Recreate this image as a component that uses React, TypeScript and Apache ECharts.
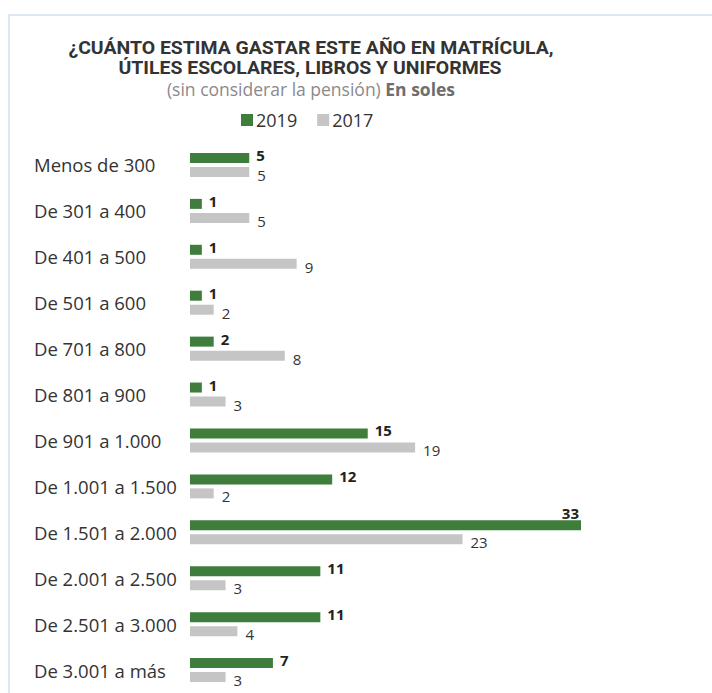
import React, { useEffect, useRef } from "react";
import * as echarts from "echarts";

const categories = [
  "Menos de 300",
  "De 301 a 400",
  "De 401 a 500",
  "De 501 a 600",
  "De 701 a 800",
  "De 801 a 900",
  "De 901 a 1.000",
  "De 1.001 a 1.500",
  "De 1.501 a 2.000",
  "De 2.001 a 2.500",
  "De 2.501 a 3.000",
  "De 3.001 a más",
];
const values2019 = [5, 1, 1, 1, 2, 1, 15, 12, 33, 11, 11, 7];
const values2017 = [5, 5, 9, 2, 8, 3, 19, 2, 23, 3, 4, 3];
const titleLines = [
  "¿CUÁNTO ESTIMA GASTAR ESTE AÑO EN MATRÍCULA,",
  "ÚTILES ESCOLARES, LIBROS Y UNIFORMES",
];
const subtitleA = "(sin considerar la pensión) ";
const subtitleB = "En soles";

const GREEN = "#3e7d3b";
const GRAY = "#c5c5c5";
const FONT = "'Open Sans', 'Noto Sans', sans-serif";

export default function App() {
  const ref = useRef<HTMLDivElement>(null);
  useEffect(() => {
    if (!ref.current) return;
    const chart = echarts.init(ref.current, undefined, { renderer: "svg" });
    const maxVal = Math.max(...values2019, ...values2017);
    chart.setOption({
      animation: false,
      backgroundColor: "#ffffff",
      textStyle: { fontFamily: FONT },
      graphic: [
        {
          type: "rect",
          shape: { x: 9, y: 15, width: 760, height: 720 },
          style: { fill: "none", stroke: "#dbe7f4", lineWidth: 2 },
          silent: true,
        },
        {
          type: "text",
          x: 311,
          y: 48,
          scaleX: 1.08,
          style: {
            text: titleLines[0],
            fill: "#333333",
            font: "bold 18px 'Roboto', sans-serif",
            textAlign: "center",
            textVerticalAlign: "middle",
          },
        },
        {
          type: "text",
          x: 310,
          y: 68,
          scaleX: 1.08,
          style: {
            text: titleLines[1],
            fill: "#333333",
            font: "bold 18px 'Roboto', sans-serif",
            textAlign: "center",
            textVerticalAlign: "middle",
          },
        },
        {
          type: "text",
          x: 311,
          y: 89,
          style: {
            text: `{a|${subtitleA}}{b|${subtitleB}}`,
            textAlign: "center",
            textVerticalAlign: "middle",
            rich: {
              a: { fill: "#8a8a8a", fontSize: 17.5, fontFamily: FONT },
              b: { fill: "#6e6e6e", fontSize: 17.5, fontWeight: "bold", fontFamily: FONT },
            },
          },
        },
      ],
      legend: {
        left: 236,
        top: 106,
        itemWidth: 12,
        itemHeight: 12,
        itemGap: 20,
        icon: "rect",
        textStyle: { fontSize: 18, color: "#333333", fontFamily: FONT, padding: [0, 0, 0, -2] },
        data: ["2019", "2017"],
      },
      grid: { left: 190, right: 131, top: 142, bottom: 0, containLabel: false },
      xAxis: {
        type: "value",
        min: 0,
        max: maxVal,
        show: false,
      },
      yAxis: {
        type: "category",
        data: categories,
        inverse: true,
        axisLine: { show: false },
        axisTick: { show: false },
        splitLine: { show: false },
        axisLabel: {
          align: "left",
          margin: 156,
          fontSize: 18.5,
          color: "#333333",
          fontFamily: FONT,
        },
      },
      series: [
        {
          name: "2019",
          type: "bar",
          data: values2019.map((v) =>
            v === maxVal
              ? {
                  value: v,
                  label: {
                    position: ["100%", -1],
                    align: "right",
                    verticalAlign: "bottom",
                    offset: [-2, 0],
                  },
                }
              : v
          ),
          barWidth: 10,
          barGap: "40%",
          itemStyle: { color: GREEN },
          label: {
            show: true,
            position: "right",
            distance: 7,
            offset: [0, -3],
            fontSize: 15,
            lineHeight: 13,
            fontWeight: "bold",
            color: "#222222",
            fontFamily: FONT,
          },
        },
        {
          name: "2017",
          type: "bar",
          data: values2017,
          barWidth: 10,
          barGap: "40%",
          itemStyle: { color: GRAY },
          label: {
            show: true,
            position: "right",
            distance: 8,
            offset: [0, 3],
            fontSize: 15,
            lineHeight: 13,
            color: "#333333",
            fontFamily: FONT,
          },
        },
      ],
    });
    return () => chart.dispose();
  }, []);
  return <div ref={ref} style={{ width: 712, height: 693, position: "absolute", left: 0, top: 0 }} />;
}
